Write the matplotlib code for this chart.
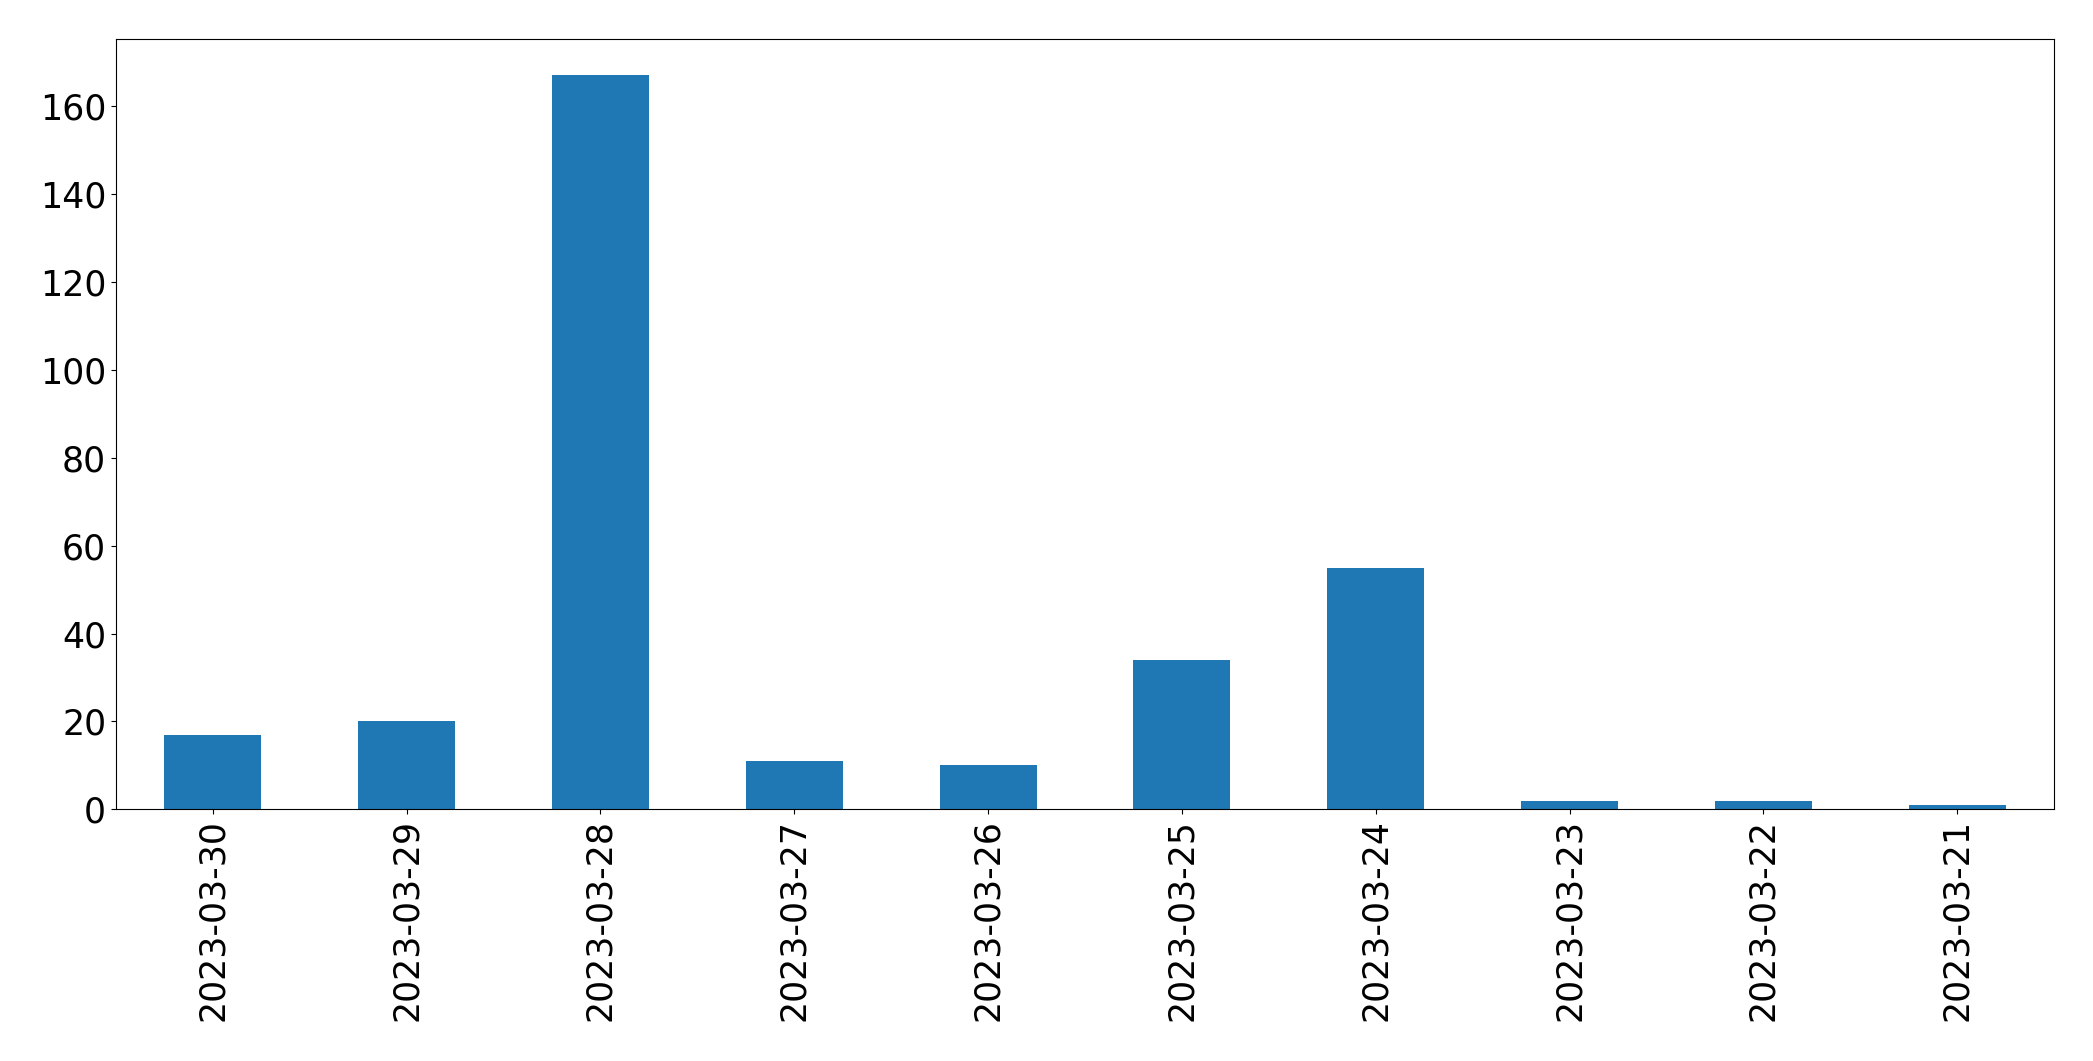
import matplotlib
matplotlib.use('Agg')
import matplotlib.pyplot as plt
import pandas as pd

# daily counts, newest first
dates = ['2023-03-30', '2023-03-29', '2023-03-28', '2023-03-27', '2023-03-26',
         '2023-03-25', '2023-03-24', '2023-03-23', '2023-03-22', '2023-03-21']
counts = [17, 20, 167, 11, 10, 34, 55, 2, 2, 1]

data = pd.Series(counts, index=dates)

fig = plt.figure(figsize=(20.93, 10.61), dpi=100)
ax = fig.add_axes([0.0554, 0.2372, 0.926, 0.7263])
data.plot(kind='bar', ax=ax, color='#1f77b4', fontsize=25)
ax.tick_params(axis='both', labelsize=25)

fig.savefig('out.png', dpi=100)
